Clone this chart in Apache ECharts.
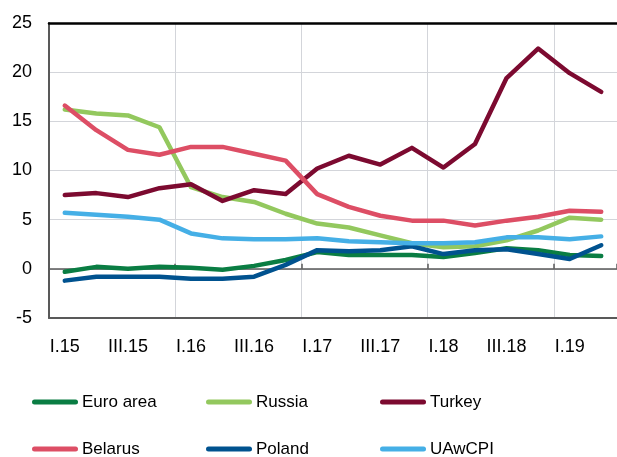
<!DOCTYPE html>
<html>
<head>
<meta charset="utf-8">
<script src="https://cdn.jsdelivr.net/npm/echarts@6/dist/echarts.min.js"></script>
<style>
  html, body { margin: 0; padding: 0; background: #fff; }
  #chart { width: 617px; height: 457px; }
</style>
</head>
<body>
<div id="chart"></div>
<script>
// Quarterly inflation, % y/y
const quarters = ['I.15','II.15','III.15','IV.15','I.16','II.16','III.16','IV.16',
                  'I.17','II.17','III.17','IV.17','I.18','II.18','III.18','IV.18','I.19','II.19'];

const euroArea = [-0.3, 0.2, 0.0, 0.2, 0.1, -0.1, 0.3, 0.9, 1.7, 1.4, 1.4, 1.4, 1.2, 1.6, 2.1, 1.9, 1.4, 1.3];
const russia   = [16.2, 15.8, 15.6, 14.4, 8.3, 7.3, 6.8, 5.6, 4.6, 4.2, 3.4, 2.6, 2.2, 2.3, 2.9, 3.9, 5.2, 5.0];
const turkey   = [7.5, 7.7, 7.3, 8.2, 8.6, 6.9, 8.0, 7.6, 10.2, 11.5, 10.6, 12.3, 10.3, 12.7, 19.4, 22.4, 19.9, 18.0];
const belarus  = [16.6, 14.1, 12.1, 11.6, 12.4, 12.4, 11.7, 11.0, 7.6, 6.3, 5.4, 4.9, 4.9, 4.4, 4.9, 5.3, 5.9, 5.8];
const poland   = [-1.2, -0.8, -0.8, -0.8, -1.0, -1.0, -0.8, 0.4, 1.9, 1.8, 1.9, 2.3, 1.5, 1.9, 2.0, 1.5, 1.0, 2.4];
const uawcpi   = [5.7, 5.5, 5.3, 5.0, 3.6, 3.1, 3.0, 3.0, 3.1, 2.8, 2.7, 2.6, 2.6, 2.7, 3.2, 3.2, 3.0, 3.3];

const seriesList = [
  { name: 'Euro area', data: euroArea, color: '#0a7d43' },
  { name: 'Russia',    data: russia,   color: '#93c85e' },
  { name: 'Turkey',    data: turkey,   color: '#7c0a30' },
  { name: 'Belarus',   data: belarus,  color: '#dd4e65' },
  { name: 'Poland',    data: poland,   color: '#00528f' },
  { name: 'UAwCPI',    data: uawcpi,   color: '#45afe6' }
];

const FONT = '"Liberation Sans", Arial, sans-serif';
const gridColor = '#d3d5da';
const axisColor = '#595959';

// legend: 3 columns x 2 rows, one legend block per entry
const legendCols = [32, 206, 380];
const legendRows = [392, 439];
const capsule = 'path://M2.5,0H43.5A2.5,2.5,0,0,1,43.5,5H2.5A2.5,2.5,0,0,1,2.5,0Z';
const legends = seriesList.map((s, i) => ({
  data: [s.name],
  left: legendCols[i % 3],
  top: legendRows[Math.floor(i / 3)],
  padding: 0,
  itemWidth: 46,
  itemHeight: 5,
  itemGap: 0,
  icon: capsule,
  selectedMode: false,
  textStyle: { fontFamily: FONT, fontSize: 17, color: '#000', lineHeight: 20, padding: [0, 0, 0, -1] }
}));

const chart = echarts.init(document.getElementById('chart'), null, { renderer: 'canvas' });

chart.setOption({
  animation: false,
  backgroundColor: '#fff',
  grid: { left: 49, right: -5, top: 23, bottom: 139, containLabel: false },
  legend: legends,
  xAxis: [
    {
      // bottom frame with quarter labels and yearly grid lines
      type: 'category',
      data: quarters,
      position: 'bottom',
      boundaryGap: true,
      axisLine: { onZero: false, lineStyle: { color: axisColor, width: 2 } },
      axisTick: { show: false },
      axisLabel: {
        interval: 1,
        margin: 20,
        fontFamily: FONT,
        fontSize: 18,
        color: '#000'
      },
      splitLine: {
        show: true,
        interval: (idx) => idx % 4 === 0,
        lineStyle: { color: gridColor, width: 1 }
      }
    },
    {
      // top frame line
      type: 'category',
      data: quarters,
      position: 'top',
      axisLine: { onZero: false, lineStyle: { color: '#000', width: 2.5 } },
      axisTick: { show: false },
      axisLabel: { show: false },
      splitLine: { show: false }
    },
    {
      // zero line with yearly ticks
      type: 'category',
      data: quarters,
      position: 'bottom',
      axisLine: { onZero: true, lineStyle: { color: axisColor, width: 1.5 } },
      axisTick: {
        show: true,
        inside: true,
        length: 5,
        interval: (idx) => idx % 4 === 0,
        lineStyle: { color: axisColor, width: 1.5 }
      },
      axisLabel: { show: false },
      splitLine: { show: false }
    }
  ],
  yAxis: {
    type: 'value',
    min: -5,
    max: 25,
    interval: 5,
    axisLine: { show: true, onZero: false, lineStyle: { color: axisColor, width: 2 } },
    axisTick: { show: false },
    axisLabel: { margin: 17, fontFamily: FONT, fontSize: 18, color: '#000' },
    splitLine: { show: true, lineStyle: { color: gridColor, width: 1 } }
  },
  series: seriesList.map(s => ({
    name: s.name,
    type: 'line',
    xAxisIndex: 0,
    data: s.data,
    showSymbol: false,
    symbol: 'none',
    color: s.color,
    lineStyle: { color: s.color, width: 4.5, cap: 'round', join: 'round' },
    itemStyle: { color: s.color },
    z: 3
  }))
});
</script>
</body>
</html>
